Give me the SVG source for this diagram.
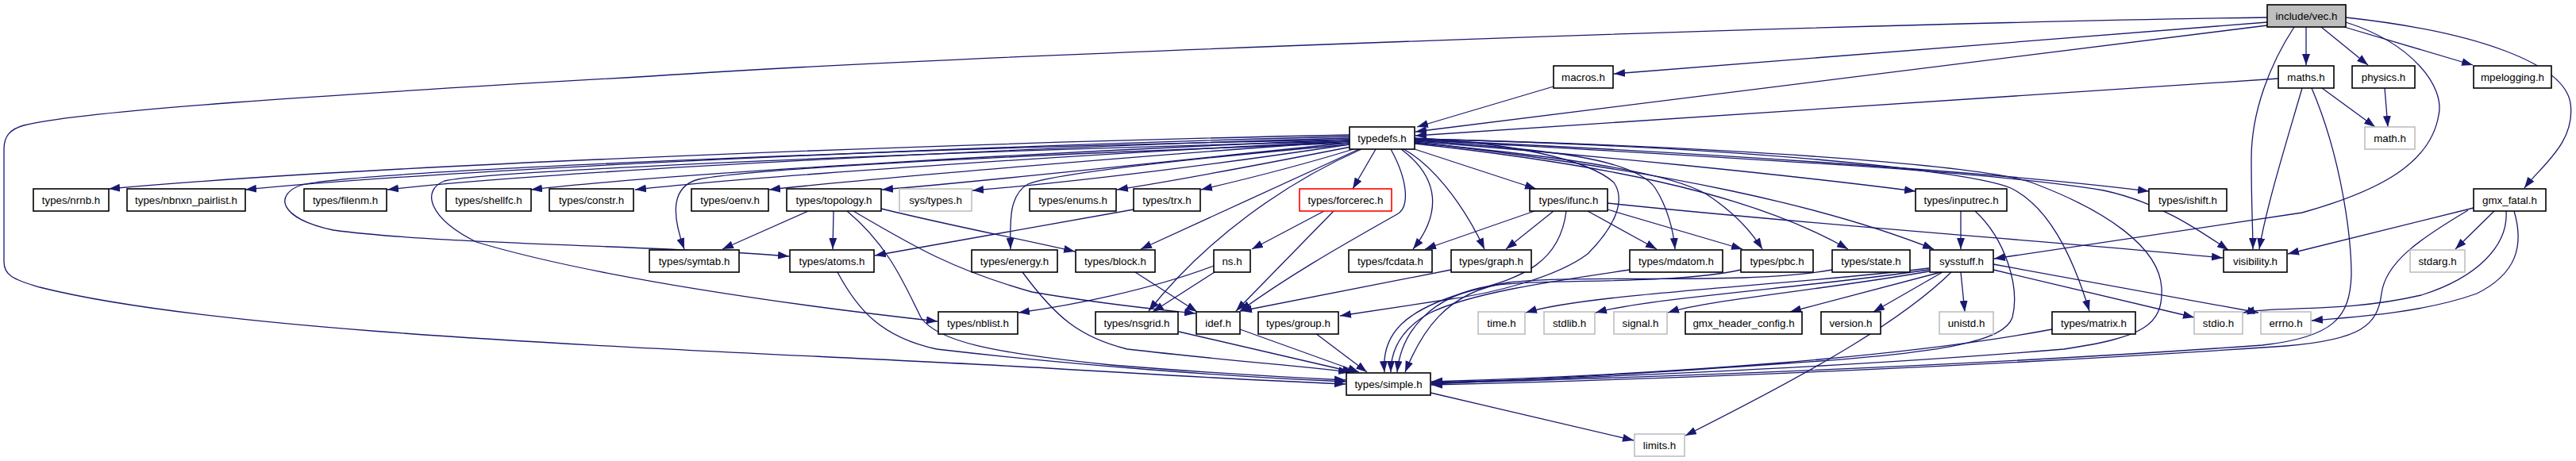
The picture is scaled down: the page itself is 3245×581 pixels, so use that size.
<svg xmlns="http://www.w3.org/2000/svg" width="3245" height="581" viewBox="0 0 3245 581">
<defs>
<marker id="ah" markerUnits="userSpaceOnUse" markerWidth="15" markerHeight="11" refX="14" refY="5" orient="auto">
<path d="M0,0 L14,5 L0,10 z" fill="#191970"/>
</marker>
<style>
.n rect{fill:#fff;stroke:#000;stroke-width:1.6}
.n.g rect{stroke:#bfbfbf}
.n.r rect{stroke:#ff0000}
.n.root rect{fill:#bfbfbf}
.n text{font-family:"Liberation Sans",Arial,sans-serif;font-size:13.33px;text-anchor:middle;fill:#000}
#edges path{fill:none;stroke:#191970;stroke-width:1.3;marker-end:url(#ah)}
</style>
</defs>
<rect width="3245" height="581" fill="#fff"/>
<g id="edges">
<path d="M2856,22 C2300,30 1200,70 820,96 C400,120 100,140 30,158 C12,163 5,172 5,188 L5,330 C5,346 15,352 50,362 C300,425 900,440 1320,464 C1500,475 1600,480 1695,484"/>
<path d="M2856,28 L2033,93"/>
<path d="M2856,32 L1783,166"/>
<path d="M2905,34 L2905,82"/>
<path d="M2924,34 L2983,82"/>
<path d="M2953,34 L3115,82"/>
<path d="M2890,34 C2860,80 2836,140 2836,200 C2836,260 2838,290 2838,314"/>
<path d="M2955,28 C3040,55 3080,110 3072,145 C3062,205 3000,240 2900,268 L2512,326"/>
<path d="M2955,22 C3120,40 3230,80 3238,130 C3245,180 3200,210 3180,237"/>
<path d="M1957,109 L1785,160"/>
<path d="M2870,99 L1783,171"/>
<path d="M2925,111 L2992,160"/>
<path d="M2900,111 C2880,180 2855,260 2846,314"/>
<path d="M2912,111 C2950,200 2962,300 2962,347 C2960,400 2940,425 2850,435 C2500,460 2100,475 1803,483"/>
<path d="M3004,111 L3008,160"/>
<path d="M1700,170 C1300,178 500,205 137,238"/>
<path d="M1700,172 C1300,182 600,210 309,239"/>
<path d="M1700,174 C1300,185 700,215 488,239"/>
<path d="M1700,176 C1350,190 850,218 669,239"/>
<path d="M1700,178 C1400,192 950,222 800,239"/>
<path d="M1700,178 C1450,195 1100,225 969,239"/>
<path d="M1700,180 C1500,200 1250,228 1111,239"/>
<path d="M1700,182 C1550,205 1350,230 1225,240"/>
<path d="M1702,185 C1600,205 1480,228 1407,239"/>
<path d="M1705,188 C1640,208 1560,228 1513,239"/>
<path d="M1733,188 L1704,238"/>
<path d="M1782,188 L1935,238"/>
<path d="M1782,178 C2000,195 2250,220 2413,241"/>
<path d="M1782,176 C2100,190 2500,215 2707,241"/>
<path d="M1700,180 C1300,195 950,212 880,226 C845,235 846,270 862,314"/>
<path d="M1700,176 C1200,185 450,215 380,233 C345,245 350,275 420,290 C550,308 850,310 994,323"/>
<path d="M1700,178 C1200,190 620,215 560,228 C530,240 540,275 600,305 C750,350 1000,385 1181,405"/>
<path d="M1700,182 C1500,200 1330,218 1295,232 C1272,245 1272,275 1273,314"/>
<path d="M1712,188 L1437,314"/>
<path d="M1715,188 C1620,230 1520,300 1447,392"/>
<path d="M1752,188 C1775,230 1775,262 1760,270 C1680,315 1620,350 1562,392"/>
<path d="M1765,188 C1815,225 1815,270 1780,314"/>
<path d="M1768,188 C1800,205 1840,250 1870,314"/>
<path d="M1782,177 C1950,188 2060,200 2085,237 C2100,260 2108,290 2110,314"/>
<path d="M1782,180 C1950,195 2100,215 2150,245 C2185,268 2205,290 2220,314"/>
<path d="M1782,181 C2000,205 2200,240 2328,314"/>
<path d="M1782,179 C2100,215 2300,260 2436,314"/>
<path d="M1782,176 C2200,200 2500,215 2650,240 C2720,255 2770,290 2807,315"/>
<path d="M1782,175 C2200,185 2480,215 2533,237 C2580,260 2610,320 2632,392"/>
<path d="M1782,175 C2200,185 2520,210 2567,233 C2650,265 2720,310 2723,363 C2725,410 2700,425 2600,440 C2300,465 1950,478 1803,482"/>
<path d="M1782,174 C1900,180 2000,200 2033,230 C2050,255 2030,290 2000,320 C1960,350 1880,370 1820,378 L1688,398"/>
<path d="M1018,266 L910,314"/>
<path d="M1050,266 L1049,314"/>
<path d="M1110,263 C1200,285 1280,300 1354,317"/>
<path d="M1075,266 C1150,310 1200,340 1300,368 C1400,385 1460,390 1506,395"/>
<path d="M1067,266 C1120,310 1140,360 1160,400 C1180,430 1250,445 1400,460 C1550,472 1650,477 1695,479"/>
<path d="M1428,264 L1102,322"/>
<path d="M1055,343 C1080,390 1110,425 1180,440 C1350,460 1550,475 1695,481"/>
<path d="M1288,343 C1330,400 1360,425 1420,440 C1550,455 1650,462 1700,469"/>
<path d="M1430,343 L1508,393"/>
<path d="M1668,266 L1577,314"/>
<path d="M1680,266 L1557,392"/>
<path d="M1530,343 L1452,393"/>
<path d="M1529,335 C1450,365 1350,385 1283,394"/>
<path d="M1485,418 L1705,469"/>
<path d="M1562,415 L1712,469"/>
<path d="M1657,420 L1722,469"/>
<path d="M1933,266 L1795,314"/>
<path d="M1957,266 L1897,314"/>
<path d="M2000,266 L2087,314"/>
<path d="M2025,264 L2195,314"/>
<path d="M2025,256 C2300,285 2600,305 2800,325"/>
<path d="M1973,266 C1965,330 1920,350 1851,367 C1770,390 1740,420 1744,469"/>
<path d="M1828,340 L1563,392"/>
<path d="M2053,340 C1950,355 1850,370 1800,395 C1765,415 1752,440 1752,469"/>
<path d="M2193,340 C2100,360 1950,350 1880,360 C1800,372 1765,420 1760,469"/>
<path d="M2308,340 C2200,360 2000,345 1900,356 C1820,368 1790,420 1770,469"/>
<path d="M2470,266 L2470,314"/>
<path d="M2488,266 C2525,300 2545,360 2535,400 C2525,430 2450,445 2250,458 C2050,472 1900,480 1803,484"/>
<path d="M2430,338 C2250,360 2000,370 1922,394"/>
<path d="M2430,340 C2280,362 2080,375 2010,394"/>
<path d="M2430,342 C2300,365 2150,378 2101,394"/>
<path d="M2445,343 L2255,393"/>
<path d="M2447,343 L2360,393"/>
<path d="M2470,343 L2475,393"/>
<path d="M2458,343 C2400,400 2300,460 2123,549"/>
<path d="M2511,340 L2764,400"/>
<path d="M2511,333 L2845,394"/>
<path d="M2585,415 C2400,450 2100,472 1803,481"/>
<path d="M1802,495 L2058,555"/>
<path d="M3143,265 L3093,314"/>
<path d="M3116,262 L2882,320"/>
<path d="M3157,266 C3160,310 3120,350 3050,372 C2950,395 2870,385 2826,394"/>
<path d="M3167,266 C3180,310 3170,345 3120,370 C3050,395 2960,400 2912,404"/>
<path d="M3109,265 C3050,300 3005,330 3000,370 C2995,410 2975,428 2880,436 C2500,462 2100,478 1803,485"/>
</g>
<g id="vec" class="n root"><rect x="2856" y="6" width="99" height="28"/><text x="2905.5" y="24.5">include/vec.h</text></g>
<g id="macros" class="n"><rect x="1957" y="83" width="75" height="28"/><text x="1994.5" y="101.5">macros.h</text></g>
<g id="maths" class="n"><rect x="2870" y="83" width="70" height="28"/><text x="2905" y="101.5">maths.h</text></g>
<g id="physics" class="n"><rect x="2963" y="83" width="79" height="28"/><text x="3002.5" y="101.5">physics.h</text></g>
<g id="mpelogging" class="n"><rect x="3116" y="83" width="98" height="28"/><text x="3165" y="101.5">mpelogging.h</text></g>
<g id="typedefs" class="n"><rect x="1700" y="160" width="82" height="28"/><text x="1741" y="178.5">typedefs.h</text></g>
<g id="math" class="n g"><rect x="2979" y="160" width="63" height="28"/><text x="3010.5" y="178.5">math.h</text></g>
<g id="nrnb" class="n"><rect x="42" y="238" width="95" height="28"/><text x="89.5" y="256.5">types/nrnb.h</text></g>
<g id="nbnxn_pairlist" class="n"><rect x="160" y="238" width="149" height="28"/><text x="234.5" y="256.5">types/nbnxn_pairlist.h</text></g>
<g id="filenm" class="n"><rect x="383" y="238" width="104" height="28"/><text x="435" y="256.5">types/filenm.h</text></g>
<g id="shellfc" class="n"><rect x="562" y="238" width="107" height="28"/><text x="615.5" y="256.5">types/shellfc.h</text></g>
<g id="constr" class="n"><rect x="692" y="238" width="106" height="28"/><text x="745" y="256.5">types/constr.h</text></g>
<g id="oenv" class="n"><rect x="871" y="238" width="97" height="28"/><text x="919.5" y="256.5">types/oenv.h</text></g>
<g id="topology" class="n"><rect x="991" y="238" width="119" height="28"/><text x="1050.5" y="256.5">types/topology.h</text></g>
<g id="sys_types" class="n g"><rect x="1133" y="238" width="91" height="28"/><text x="1178.5" y="256.5">sys/types.h</text></g>
<g id="enums" class="n"><rect x="1297" y="238" width="109" height="28"/><text x="1351.5" y="256.5">types/enums.h</text></g>
<g id="trx" class="n"><rect x="1428" y="238" width="84" height="28"/><text x="1470" y="256.5">types/trx.h</text></g>
<g id="forcerec" class="n r"><rect x="1637" y="238" width="116" height="28"/><text x="1695" y="256.5">types/forcerec.h</text></g>
<g id="ifunc" class="n"><rect x="1927" y="238" width="98" height="28"/><text x="1976" y="256.5">types/ifunc.h</text></g>
<g id="inputrec" class="n"><rect x="2413" y="238" width="115" height="28"/><text x="2470.5" y="256.5">types/inputrec.h</text></g>
<g id="ishift" class="n"><rect x="2707" y="238" width="98" height="28"/><text x="2756" y="256.5">types/ishift.h</text></g>
<g id="gmx_fatal" class="n"><rect x="3116" y="238" width="91" height="28"/><text x="3161.5" y="256.5">gmx_fatal.h</text></g>
<g id="symtab" class="n"><rect x="818" y="315" width="113" height="28"/><text x="874.5" y="333.5">types/symtab.h</text></g>
<g id="atoms" class="n"><rect x="995" y="315" width="106" height="28"/><text x="1048" y="333.5">types/atoms.h</text></g>
<g id="energy" class="n"><rect x="1224" y="315" width="108" height="28"/><text x="1278" y="333.5">types/energy.h</text></g>
<g id="block" class="n"><rect x="1355" y="315" width="100" height="28"/><text x="1405" y="333.5">types/block.h</text></g>
<g id="ns" class="n"><rect x="1529" y="315" width="46" height="28"/><text x="1552" y="333.5">ns.h</text></g>
<g id="fcdata" class="n"><rect x="1699" y="315" width="105" height="28"/><text x="1751.5" y="333.5">types/fcdata.h</text></g>
<g id="graph" class="n"><rect x="1828" y="315" width="101" height="28"/><text x="1878.5" y="333.5">types/graph.h</text></g>
<g id="mdatom" class="n"><rect x="2053" y="315" width="117" height="28"/><text x="2111.5" y="333.5">types/mdatom.h</text></g>
<g id="pbc" class="n"><rect x="2193" y="315" width="91" height="28"/><text x="2238.5" y="333.5">types/pbc.h</text></g>
<g id="state" class="n"><rect x="2308" y="315" width="98" height="28"/><text x="2357" y="333.5">types/state.h</text></g>
<g id="sysstuff" class="n"><rect x="2431" y="315" width="80" height="28"/><text x="2471" y="333.5">sysstuff.h</text></g>
<g id="visibility" class="n"><rect x="2801" y="315" width="80" height="28"/><text x="2841" y="333.5">visibility.h</text></g>
<g id="stdarg" class="n g"><rect x="3036" y="315" width="69" height="28"/><text x="3070.5" y="333.5">stdarg.h</text></g>
<g id="nblist" class="n"><rect x="1182" y="393" width="100" height="28"/><text x="1232" y="411.5">types/nblist.h</text></g>
<g id="nsgrid" class="n"><rect x="1380" y="393" width="104" height="28"/><text x="1432" y="411.5">types/nsgrid.h</text></g>
<g id="idef" class="n"><rect x="1507" y="393" width="55" height="28"/><text x="1534.5" y="411.5">idef.h</text></g>
<g id="group" class="n"><rect x="1585" y="393" width="101" height="28"/><text x="1635.5" y="411.5">types/group.h</text></g>
<g id="time" class="n g"><rect x="1862" y="393" width="59" height="28"/><text x="1891.5" y="411.5">time.h</text></g>
<g id="stdlib" class="n g"><rect x="1945" y="393" width="64" height="28"/><text x="1977" y="411.5">stdlib.h</text></g>
<g id="signal" class="n g"><rect x="2033" y="393" width="67" height="28"/><text x="2066.5" y="411.5">signal.h</text></g>
<g id="gmx_header_config" class="n"><rect x="2123" y="393" width="147" height="28"/><text x="2196.5" y="411.5">gmx_header_config.h</text></g>
<g id="version" class="n"><rect x="2294" y="393" width="75" height="28"/><text x="2331.5" y="411.5">version.h</text></g>
<g id="unistd" class="n g"><rect x="2443" y="393" width="68" height="28"/><text x="2477" y="411.5">unistd.h</text></g>
<g id="matrix" class="n"><rect x="2585" y="393" width="105" height="28"/><text x="2637.5" y="411.5">types/matrix.h</text></g>
<g id="stdio" class="n g"><rect x="2764" y="393" width="61" height="28"/><text x="2794.5" y="411.5">stdio.h</text></g>
<g id="errno" class="n g"><rect x="2848" y="393" width="63" height="28"/><text x="2879.5" y="411.5">errno.h</text></g>
<g id="simple" class="n"><rect x="1696" y="470" width="106" height="28"/><text x="1749" y="488.5">types/simple.h</text></g>
<g id="limits" class="n g"><rect x="2059" y="547" width="63" height="28"/><text x="2090.5" y="565.5">limits.h</text></g>
</svg>
